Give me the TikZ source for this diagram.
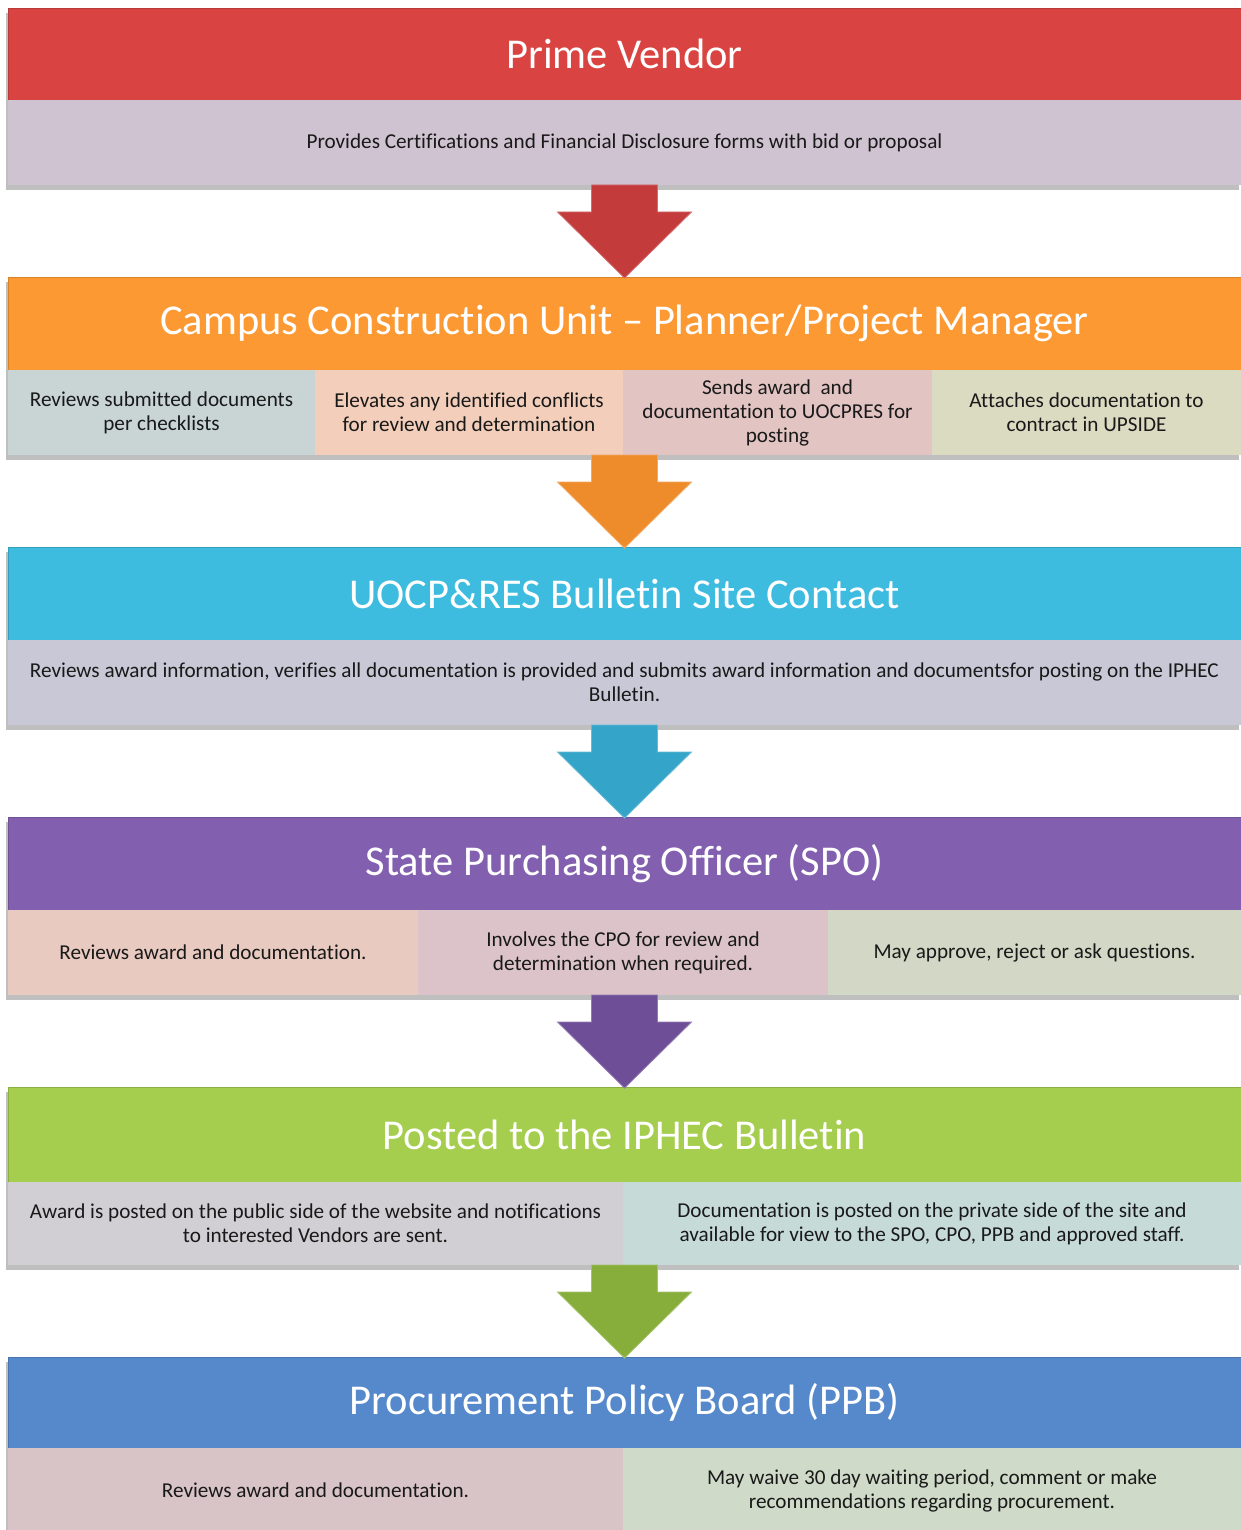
\documentclass[tikz,border=0pt]{standalone}
\usepackage{fontspec}
\setmainfont{Carlito}[Ligatures={NoCommon,NoContextual}, Contextuals=NoAlternate]
\usetikzlibrary{shadows,calc}

% header colours
\definecolor{hR}{HTML}{D94443}
\definecolor{hO}{HTML}{FD9933}
\definecolor{hC}{HTML}{3EBCE0}
\definecolor{hP}{HTML}{835FB0}
\definecolor{hG}{HTML}{A5CD4E}
\definecolor{hB}{HTML}{5689CB}
% cell colours
\definecolor{s1}{HTML}{D0C3D1}
\definecolor{c21}{HTML}{C9D4D5}
\definecolor{c22}{HTML}{F3CEBA}
\definecolor{c23}{HTML}{E2C4C3}
\definecolor{c24}{HTML}{DBDBC2}
\definecolor{s3}{HTML}{C8C8D7}
\definecolor{c41}{HTML}{E9CAC1}
\definecolor{c42}{HTML}{DCC3C9}
\definecolor{c43}{HTML}{D3D7C6}
\definecolor{c51}{HTML}{D1CFD3}
\definecolor{c52}{HTML}{C6DBD8}
\definecolor{c61}{HTML}{D8C3C7}
\definecolor{c62}{HTML}{CFDAC8}
% arrow colours
\definecolor{aR}{HTML}{C43B3C}
\definecolor{aO}{HTML}{EE8B2B}
\definecolor{aC}{HTML}{34A4C8}
\definecolor{aP}{HTML}{6F4E98}
\definecolor{aG}{HTML}{87AE3B}

\begin{document}
\begin{tikzpicture}[x=1pt,y=-1pt,
  bandbg/.style={fill=white, inner sep=0pt, outer sep=0pt, anchor=north west,
    minimum width=1233pt,
    drop shadow={opacity=0.5, shadow xshift=-2pt, shadow yshift=-5pt}},
  hdr/.style={fill=#1, draw=#1!85!black, line width=0.6pt, inner sep=0pt, outer sep=0pt,
    anchor=north west, minimum width=1233pt, text=white,
    font=\fontsize{42.5}{50}\selectfont},
  cell/.style={fill=#1, inner sep=0pt, outer sep=0pt, anchor=north west,
    align=center, text=black!90,
    font=\fontsize{21.2}{24}\selectfont},
  blockarrow/.style={fill=#1, draw=#1!75!white, line width=0.8pt, line join=miter}
]
\useasboundingbox (0,0) rectangle (1241,1530);

% ---------- band 1 ----------
\node[bandbg, minimum height=177pt] (band1) at (8,8) {};
\node[hdr=hR, minimum height=92pt] (h1) at (8,8) {Prime Vendor};
\node[cell=s1, minimum width=1233pt, minimum height=85pt] (s1) at (8,100)
  {Provides Certifications and Financial Disclosure forms with bid or proposal};

% ---------- band 2 ----------
\node[bandbg, minimum height=178pt] (band2) at (8,277) {};
\node[hdr=hO, minimum height=93pt] (h2) at (8,277)
  {Campus Construction Unit -- Planner/Project Manager};
\node[cell=c21, minimum width=307pt, minimum height=85pt] (c21) at (8,370)
  {Reviews submitted documents\\per checklists};
\node[cell=c22, minimum width=308pt, minimum height=85pt] (c22) at (315,370)
  {Elevates any identified conflicts\\for review and determination};
\node[cell=c23, minimum width=309pt, minimum height=85pt] (c23) at (623,370)
  {Sends award\ \ and\\documentation to UOCPRES for\\posting};
\node[cell=c24, minimum width=309pt, minimum height=85pt] (c24) at (932,370)
  {Attaches documentation to\\contract in UPSIDE};

% ---------- band 3 ----------
\node[bandbg, minimum height=178pt] (band3) at (8,547) {};
\node[hdr=hC, minimum height=93pt] (h3) at (8,547) {UOCP\&RES Bulletin Site Contact};
\node[cell=s3, minimum width=1233pt, minimum height=85pt] (s3) at (8,640)
  {Reviews award information, verifies all documentation is provided and submits award information and documentsfor posting on the IPHEC\\Bulletin.};

% ---------- band 4 ----------
\node[bandbg, minimum height=178pt] (band4) at (8,817) {};
\node[hdr=hP, minimum height=93pt] (h4) at (8,817) {State Purchasing Officer (SPO)};
\node[cell=c41, minimum width=410pt, minimum height=85pt] (c41) at (8,910)
  {Reviews award and documentation.};
\node[cell=c42, minimum width=410pt, minimum height=85pt] (c42) at (418,910)
  {Involves the CPO for review and\\determination when required.};
\node[cell=c43, minimum width=413pt, minimum height=85pt] (c43) at (828,910)
  {May approve, reject or ask questions.};

% ---------- band 5 ----------
\node[bandbg, minimum height=178pt] (band5) at (8,1087) {};
\node[hdr=hG, minimum height=95pt] (h5) at (8,1087) {Posted to the IPHEC Bulletin};
\node[cell=c51, minimum width=615pt, minimum height=83pt] (c51) at (8,1182)
  {Award is posted on the public side of the website and notifications\\to interested Vendors are sent.};
\node[cell=c52, minimum width=618pt, minimum height=83pt] (c52) at (623,1182)
  {Documentation is posted on the private side of the site and\\available for view to the SPO, CPO, PPB and approved staff.};

% ---------- band 6 ----------
\node[bandbg, minimum height=176pt] (band6) at (8,1357) {};
\node[hdr=hB, minimum height=91pt] (h6) at (8,1357) {Procurement Policy Board (PPB)};
\node[cell=c61, minimum width=615pt, minimum height=85pt] (c61) at (8,1448)
  {Reviews award and documentation.};
\node[cell=c62, minimum width=618pt, minimum height=85pt] (c62) at (623,1448)
  {May waive 30 day waiting period, comment or make\\recommendations regarding procurement.};

% ---------- block arrows between the bands ----------
\foreach \a/\b/\col in {band1/band2/aR, band2/band3/aO, band3/band4/aC,
                        band4/band5/aP, band5/band6/aG}{
  \path[blockarrow=\col]
    ($(\a.south)+(-33,0)$) -- ($(\a.south)+(33,0)$) -- ($(\a.south)+(33,27)$)
    -- ($(\a.south)+(67,27)$) -- ($(\b.north)+(0,1)$) -- ($(\a.south)+(-67,27)$)
    -- ($(\a.south)+(-33,27)$) -- cycle;
}
\end{tikzpicture}
\end{document}
